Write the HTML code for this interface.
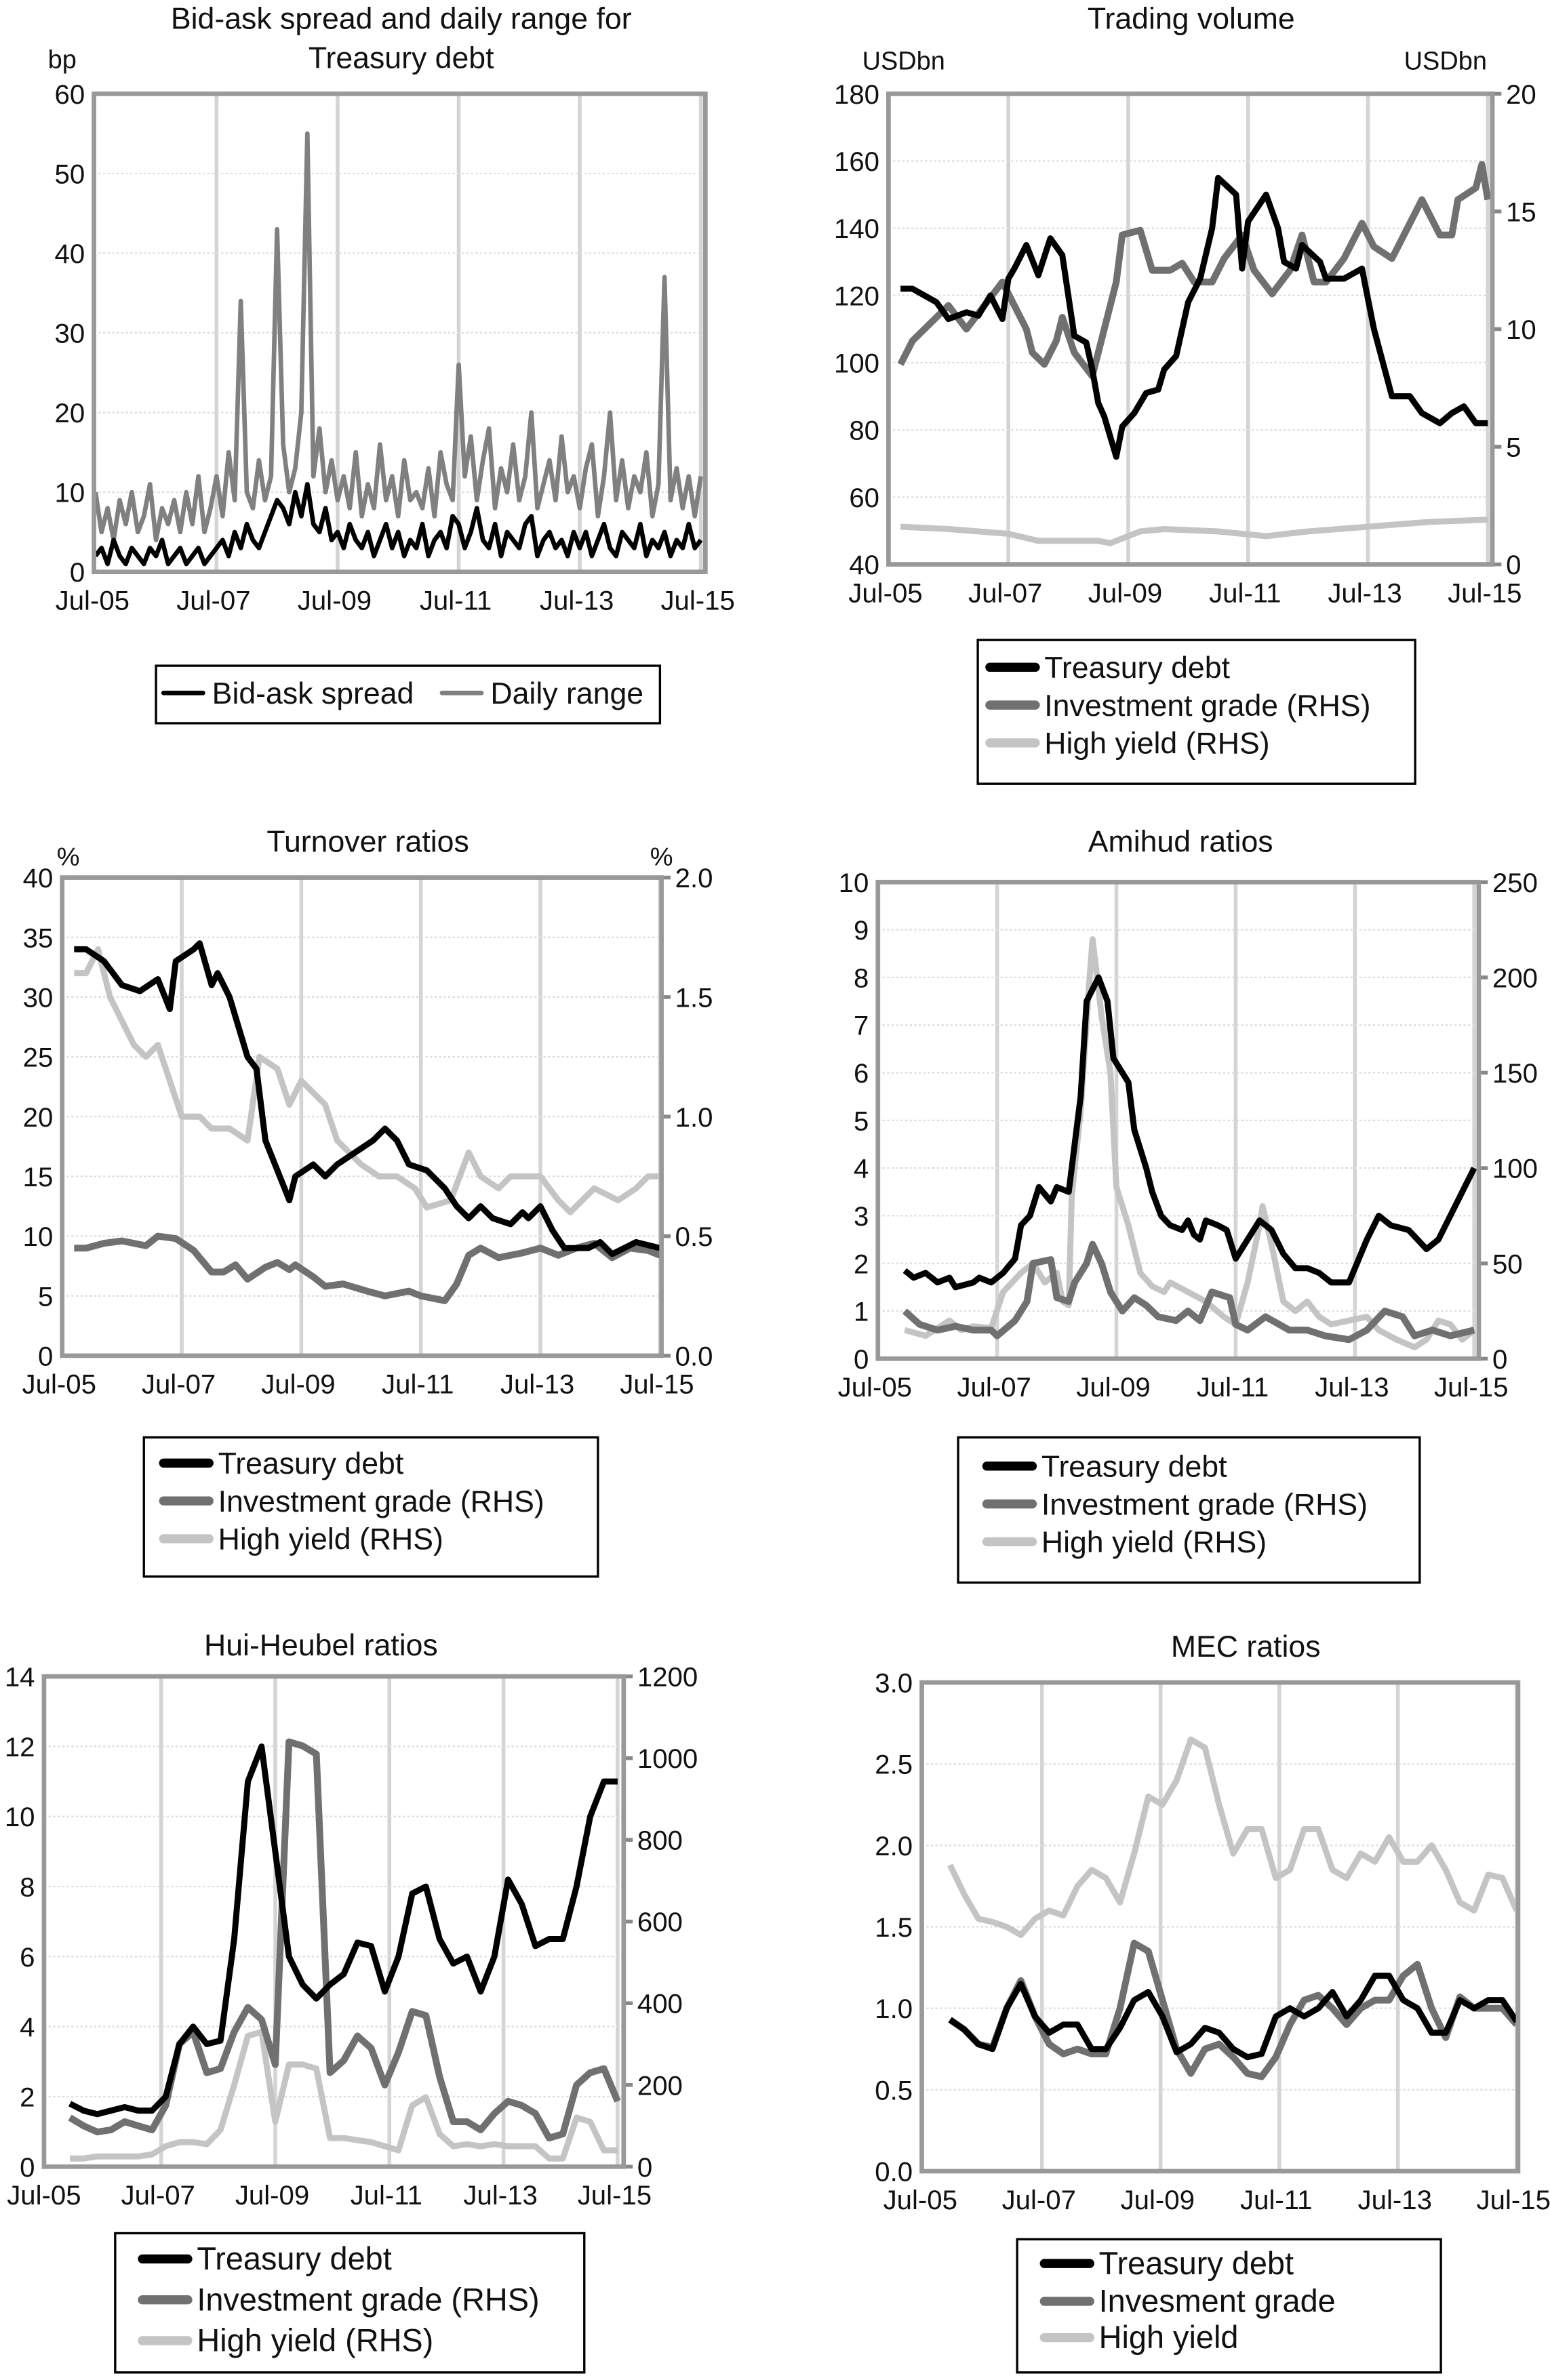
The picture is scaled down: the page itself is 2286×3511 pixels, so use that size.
<!DOCTYPE html>
<html><head><meta charset="utf-8"><style>
html,body{margin:0;padding:0;background:#fff;}
svg{display:block;font-family:"Liberation Sans",Arial,sans-serif;}
</style></head><body>
<svg id="root" width="2286" height="3511" viewBox="0 0 1024 1573" xmlns="http://www.w3.org/2000/svg"></svg>
<script>
// ---------- data (dates in years since Jul-05) ----------
const xTickLabels = ["Jul-05","Jul-07","Jul-09","Jul-11","Jul-13","Jul-15"];
// chart 1 (0.1-year steps from Jul-05)
const c1Range = [10,5,8,4,9,6,10,5,7,11,4,8,6,9,5,10,6,12,5,8,
 12,7,15,9,34,10,8,14,9,12,43,16,10,13,20,55,12,18,10,14,
 9,12,8,15,7,11,8,16,9,12,7,14,9,10,8,13,7,15,11,9,
 26,12,17,9,14,18,8,13,10,16,9,12,20,8,11,14,9,17,10,12,
 8,13,16,7,12,20,9,14,8,12,10,15,7,11,37,9,13,8,12,7,12];
const c1BidAsk = [2,3,1,4,2,1,3,2,1,3,2,4,1,2,3,1,2,3,1,2,
 3,4,2,5,3,6,4,3,5,7,9,8,6,10,7,11,6,5,8,4,
 5,3,6,4,3,5,2,4,6,3,5,2,4,3,6,2,4,5,3,7,
 6,3,5,8,4,3,6,2,5,4,3,6,7,2,4,5,3,4,2,5,
 3,5,2,4,6,3,2,5,4,3,6,2,4,3,5,2,4,3,6,3,4];
const c1Ticks = ["0","10","20","30","40","50","60"];
// chart 2
const c2TreasuryDates = [0.2,0.4,0.8,1.0,1.3,1.5,1.7,1.9,2.0,2.1,2.3,2.5,2.7,2.9,3.0,3.1,3.3,3.4,3.5,3.6,3.8,3.9,4.1,4.3,4.5,4.6,4.8,5.0,5.2,5.4,5.5,5.8,5.9,6.0,6.3,6.5,6.6,6.8,6.9,7.2,7.3,7.6,7.9,8.1,8.4,8.7,8.9,9.2,9.4,9.6,9.8,10];
const c2Treasury = [122,122,118,113,115,114,120,113,125,128,135,126,137,132,120,108,106,98,88,84,72,81,85,91,92,98,102,118,125,140,155,150,128,142,150,140,130,128,135,130,125,125,128,110,90,90,85,82,85,87,82,82];
const c2IGDates = [0.2,0.4,0.6,0.8,1.0,1.3,1.6,1.9,2.3,2.4,2.6,2.8,2.9,3.1,3.4,3.6,3.8,3.9,4.2,4.4,4.7,4.9,5.1,5.4,5.6,5.9,6.1,6.4,6.7,6.9,7.1,7.3,7.6,7.9,8.1,8.4,8.7,8.9,9.2,9.4,9.5,9.8,9.9,10];
const c2IG = [8.5,9.5,10,10.5,11,10,11,12,10,9,8.5,9.5,10.5,9,8,10,12,14,14.2,12.5,12.5,12.8,12,12,13,14,12.5,11.5,12.5,14,12,12,13,14.5,13.5,13,14.5,15.5,14,14,15.5,16,17,15.5];
const c2HYDates = [0.2,1.0,2.0,2.5,3.5,3.7,4.2,4.6,5.5,6.3,7.0,8.0,9.0,10];
const c2HY = [1.6,1.5,1.3,1.0,1.0,0.9,1.4,1.5,1.4,1.2,1.4,1.6,1.8,1.9];
const c2LTicks = ["40","60","80","100","120","140","160","180"];
const c2RTicks = ["0","5","10","15","20"];
// chart 3
const c3TreasuryDates = [0.2,0.4,0.7,1.0,1.3,1.6,1.8,1.9,2.2,2.3,2.5,2.6,2.8,3.1,3.25,3.4,3.8,3.9,4.2,4.4,4.6,4.9,5.2,5.4,5.6,5.8,6.1,6.4,6.6,6.8,7.0,7.2,7.5,7.7,7.8,8.0,8.2,8.4,8.8,9.0,9.2,9.4,9.6,10];
const c3Treasury = [34,34,33,31,30.5,31.5,29,33,34,34.5,31,32,30,25,24,18,13,15,16,15,16,17,18,19,18,16,15.5,14,12.5,11.5,12.5,11.5,11,12,11.5,12.5,10.5,9,9,9.5,8.5,9,9.5,9];
const c3IGDates = [0.2,0.4,0.7,1.0,1.4,1.6,1.9,2.2,2.5,2.7,2.9,3.1,3.4,3.6,3.8,3.9,4.2,4.4,4.7,5.1,5.4,5.8,6.0,6.4,6.6,6.8,7.0,7.3,7.7,8.0,8.3,8.6,8.9,9.2,9.5,9.8,10];
const c3IG = [0.45,0.45,0.47,0.48,0.46,0.5,0.49,0.44,0.35,0.35,0.38,0.32,0.37,0.39,0.36,0.38,0.33,0.29,0.3,0.27,0.25,0.27,0.25,0.23,0.3,0.42,0.45,0.41,0.43,0.45,0.42,0.45,0.47,0.41,0.45,0.44,0.42];
const c3HYDates = [0.2,0.4,0.6,0.8,1.0,1.2,1.4,1.6,1.8,2.0,2.3,2.5,2.8,3.1,3.3,3.6,3.8,4.0,4.4,4.6,5.0,5.3,5.6,5.9,6.1,6.5,6.8,7.0,7.3,7.5,8.0,8.3,8.5,8.9,9.3,9.6,9.8,10];
const c3HY = [1.6,1.6,1.7,1.5,1.4,1.3,1.25,1.3,1.15,1.0,1.0,0.95,0.95,0.9,1.25,1.2,1.05,1.15,1.05,0.9,0.8,0.75,0.75,0.7,0.62,0.65,0.85,0.75,0.7,0.75,0.75,0.65,0.6,0.7,0.65,0.7,0.75,0.75];
const c3LTicks = ["0","5","10","15","20","25","30","35","40"];
const c3RTicks = ["0.0","0.5","1.0","1.5","2.0"];
// chart 4
const c4TreasuryDates = [0.45,0.6,0.8,1.0,1.2,1.3,1.6,1.7,1.9,2.1,2.3,2.4,2.55,2.7,2.9,3.0,3.2,3.3,3.4,3.5,3.7,3.85,3.95,4.2,4.3,4.5,4.6,4.75,4.9,5.1,5.2,5.3,5.4,5.5,5.7,5.85,6.0,6.2,6.4,6.6,6.8,7.0,7.2,7.4,7.6,7.9,8.2,8.4,8.6,8.9,9.2,9.4,9.6,9.8,10];
const c4Treasury = [1.85,1.7,1.8,1.6,1.7,1.5,1.6,1.7,1.6,1.8,2.1,2.8,3.0,3.6,3.3,3.6,3.5,4.5,5.5,7.5,8.0,7.5,6.3,5.8,4.8,4.0,3.5,3.0,2.8,2.7,2.9,2.6,2.5,2.9,2.8,2.7,2.1,2.5,2.9,2.7,2.2,1.9,1.9,1.8,1.6,1.6,2.5,3.0,2.8,2.7,2.3,2.5,3.0,3.5,4.0];
const c4IGDates = [0.45,0.7,1.0,1.3,1.6,1.9,2.0,2.3,2.5,2.6,2.9,3.0,3.2,3.3,3.5,3.6,3.75,3.9,4.1,4.3,4.5,4.7,5.0,5.2,5.4,5.6,5.9,6.0,6.2,6.5,6.9,7.2,7.5,7.9,8.2,8.5,8.8,9.0,9.3,9.6,10];
const c4IG = [25,18,15,17,15,15,12,20,30,50,52,32,30,40,50,60,50,35,25,32,28,22,20,25,20,35,32,18,15,22,15,15,12,10,15,25,22,12,15,12,15];
const c4HYDates = [0.45,0.8,1.1,1.2,1.4,1.6,1.9,2.1,2.4,2.6,2.8,3.0,3.1,3.2,3.25,3.4,3.55,3.6,3.75,3.9,4.0,4.2,4.4,4.6,4.8,4.9,5.2,5.5,5.8,6.0,6.2,6.4,6.45,6.6,6.8,7.0,7.2,7.4,7.6,7.9,8.2,8.4,8.7,9.0,9.2,9.4,9.6,9.8,10];
const c4HY = [15,12,18,20,15,17,16,35,45,50,40,45,30,28,85,130,200,220,180,150,90,70,45,38,35,40,35,30,22,18,40,70,80,60,30,25,30,22,18,20,22,15,10,6,10,20,18,10,15];
const c4LTicks = ["0","1","2","3","4","5","6","7","8","9","10"];
const c4RTicks = ["0","50","100","150","200","250"];
// chart 5 (41 evenly spaced observations, 0.4 to 10 years)
const c5Treasury = [1.8,1.6,1.5,1.6,1.7,1.6,1.6,2.0,3.5,4.0,3.5,3.6,6.5,11,12,9,6,5.2,4.8,5.2,5.5,6.4,6.3,5.0,6.0,7.8,8.0,6.5,5.8,6.0,5.0,6.0,8.2,7.5,6.3,6.5,6.5,8.0,10,11,11];
const c5IG = [120,100,85,90,110,100,90,150,300,330,230,240,330,390,360,250,1040,1030,1010,230,260,320,290,200,280,380,370,220,110,110,90,130,160,150,130,70,80,200,230,240,160];
const c5HY = [20,20,25,25,25,25,30,50,60,60,55,90,200,320,330,110,250,250,240,70,70,65,60,50,40,150,170,80,50,55,50,55,50,50,50,20,20,120,110,40,40];
const c5LTicks = ["0","2","4","6","8","10","12","14"];
const c5RTicks = ["0","200","400","600","800","1000","1200"];
// chart 6 (41 evenly spaced observations, 0.45 to 10 years)
const c6Treasury = [.93,.87,.78,.75,1.0,1.15,.95,.85,.9,.9,.75,.75,.88,1.05,1.1,.95,.73,.78,.88,.85,.75,.7,.72,.95,1.0,.95,1.0,1.1,.95,1.05,1.2,1.2,1.05,1.0,.85,.85,1.05,1.0,1.05,1.05,.92];
const c6IG = [.93,.87,.78,.76,1.0,1.17,.95,.78,.72,.75,.72,.72,1.0,1.4,1.35,1.05,.75,.6,.75,.78,.7,.6,.58,.7,.9,1.05,1.08,1.0,.9,1.0,1.05,1.05,1.2,1.27,1.0,.82,1.07,1.0,1.0,1.0,.9];
const c6HY = [1.88,1.7,1.55,1.53,1.5,1.45,1.55,1.6,1.57,1.75,1.85,1.8,1.65,1.95,2.3,2.25,2.4,2.65,2.6,2.25,1.95,2.1,2.1,1.8,1.85,2.1,2.1,1.85,1.8,1.95,1.9,2.05,1.9,1.9,2.0,1.85,1.65,1.6,1.82,1.8,1.6];
const c6Ticks = ["0.0","0.5","1.0","1.5","2.0","2.5","3.0"];

// ---------- drawing ----------
const NS="http://www.w3.org/2000/svg";
const root=document.getElementById('root');
function mk(tag,attrs,parent){const e=document.createElementNS(NS,tag);for(const k in attrs)e.setAttribute(k,attrs[k]);(parent||root).appendChild(e);return e;}
function txt(s,x,y,anchor,size,parent){const t=mk('text',{x:x,y:y,'text-anchor':anchor,'font-size':size,fill:'#111'},parent);t.textContent=s;return t;}
const BLACK='#000',IG='#707070',HY='#c4c4c4';

function chart(cfg){
  const g=mk('g',{});
  
  
  const L=cfg.box[0],T=cfg.box[1],R=cfg.box[2],B=cfg.box[3];
  const xs=t=>cfg.x0+(cfg.x1-cfg.x0)*t/10;
  const yl=v=>B-(v-cfg.lmin)/(cfg.lmax-cfg.lmin)*(B-T);
  const yr=cfg.rmax!==undefined?(v=>B-(v-cfg.rmin)/(cfg.rmax-cfg.rmin)*(B-T)):yl;
  for(let i=1;i<=5;i++){const l=mk('line',{x1:xs(i*2),x2:xs(i*2),y1:T,y2:B,stroke:'#d4d4d4','stroke-width':2.5},g);}
  cfg.lticks.forEach((s,i)=>{const v=cfg.lmin+(cfg.lmax-cfg.lmin)*i/(cfg.lticks.length-1);
    if(i>0&&i<cfg.lticks.length-1){mk('line',{x1:L,x2:R,y1:yl(v),y2:yl(v),stroke:'#ddd','stroke-width':1,'stroke-dasharray':'1.5 1.5'},g);}
    const t=txt(s,L-6,yl(v)+6.5,'end',18,g);});
  if(cfg.rticks){cfg.rticks.forEach((s,i)=>{const v=cfg.rmin+(cfg.rmax-cfg.rmin)*i/(cfg.rticks.length-1);
    mk('line',{x1:R,x2:R+6,y1:yr(v),y2:yr(v),stroke:'#888','stroke-width':2.5},g);
    const t=txt(s,R+9,yr(v)+6.5,'start',18,g);});}
  xTickLabels.forEach((s,i)=>{const t=txt(s,xs(i*2)-2,B+25,'middle',18,g);});
  cfg.series.forEach(se=>{const n=se.data.length;const f=se.axis==='r'?yr:yl;
    const s0=se.start||0;
    const pts=se.data.map((v,i)=>{const t=se.dates?se.dates[i]:s0+(10-s0)*i/(n-1);return xs(t).toFixed(2)+','+f(v).toFixed(2);}).join(' ');
    const p=mk('polyline',{points:pts,fill:'none',stroke:se.color,'stroke-width':se.w,'stroke-linejoin':'round'},g);
    });
  const fr=mk('rect',{x:L,y:T,width:R-L,height:B-T,fill:'none',stroke:'#999','stroke-width':3},g);
  
  cfg.title.forEach((s,i)=>{const t=txt(s,cfg.tx,cfg.ty+i*26,'middle',20,g);});
  (cfg.units||[]).forEach(u=>{const t=txt(u[0],u[1],u[2],'middle',17,g);});
  const lg=cfg.legend;const lgG=mk('g',{},g);
  
  mk('rect',{x:lg.box[0],y:lg.box[1],width:lg.box[2]-lg.box[0],height:lg.box[3]-lg.box[1],fill:'#fff',stroke:'#000','stroke-width':1.5},lgG);
  lg.items.forEach(it=>{const e=mk('g',{},lgG);
    mk('line',{x1:it[0],x2:it[0]+(lg.sw||30),y1:it[1]-7,y2:it[1]-7,stroke:it[3],'stroke-width':it[4],'stroke-linecap':'round'},e);
    txt(it[2],it[0]+(lg.sw||30)+6,it[1],'start',lg.size,e);});
}

chart({name:'bid-ask-chart',box:[62,62,466,378],x0:63,x1:463,lmin:0,lmax:60,lticks:c1Ticks,
  series:[{id:'daily-range-line',data:c1Range,color:'#808080',w:3},{id:'bid-ask-line',data:c1BidAsk,color:BLACK,w:3}],
  title:['Bid-ask spread and daily range for','Treasury debt'],tx:265,ty:19,units:[['bp',41,45]],
  legend:{box:[103,440,436,478],size:20,sw:26,items:[[108,465,'Bid-ask spread',BLACK,3],[292,465,'Daily range','#808080',3]]}});

chart({name:'trading-volume-chart',box:[587,62,986,373],x0:587,x1:983,lmin:40,lmax:180,lticks:c2LTicks,rmin:0,rmax:20,rticks:c2RTicks,
  series:[{id:'hy-line',data:c2HY,dates:c2HYDates,axis:'r',color:HY,w:4},{id:'ig-line',data:c2IG,dates:c2IGDates,axis:'r',color:IG,w:4.5},{id:'treasury-line',data:c2Treasury,dates:c2TreasuryDates,color:BLACK,w:4}],
  title:['Trading volume'],tx:787,ty:19,units:[['USDbn',597,46],['USDbn',955,46]],
  legend:{box:[646,423,935,518],size:20,items:[[654,448,'Treasury debt',BLACK,6],[654,473,'Investment grade (RHS)',IG,6],[654,498,'High yield (RHS)',HY,6]]}});

chart({name:'turnover-chart',box:[41,580,437,896],x0:41,x1:436,lmin:0,lmax:40,lticks:c3LTicks,rmin:0,rmax:2,rticks:c3RTicks,
  series:[{id:'hy-line',data:c3HY,dates:c3HYDates,axis:'r',color:HY,w:4},{id:'ig-line',data:c3IG,dates:c3IGDates,axis:'r',color:IG,w:4.5},{id:'treasury-line',data:c3Treasury,dates:c3TreasuryDates,color:BLACK,w:4}],
  title:['Turnover ratios'],tx:243,ty:563,units:[['%',45,572],['%',437,572]],
  legend:{box:[95,950,395,1042],size:20,items:[[108,974,'Treasury debt',BLACK,6],[108,999,'Investment grade (RHS)',IG,6],[108,1024,'High yield (RHS)',HY,6]]}});

chart({name:'amihud-chart',box:[580,583,977,898],x0:580,x1:974,lmin:0,lmax:10,lticks:c4LTicks,rmin:0,rmax:250,rticks:c4RTicks,
  series:[{id:'hy-line',data:c4HY,dates:c4HYDates,axis:'r',color:HY,w:4},{id:'ig-line',data:c4IG,dates:c4IGDates,axis:'r',color:IG,w:4.5},{id:'treasury-line',data:c4Treasury,dates:c4TreasuryDates,color:BLACK,w:4}],
  title:['Amihud ratios'],tx:780,ty:563,
  legend:{box:[633,950,938,1046],size:20,items:[[652,976,'Treasury debt',BLACK,6],[652,1001,'Investment grade (RHS)',IG,6],[652,1026,'High yield (RHS)',HY,6]]}});

chart({name:'hui-heubel-chart',box:[29,1108,412,1432],x0:31,x1:408,lmin:0,lmax:14,lticks:c5LTicks,rmin:0,rmax:1200,rticks:c5RTicks,
  series:[{id:'hy-line',data:c5HY,start:0.4,axis:'r',color:HY,w:4},{id:'ig-line',data:c5IG,start:0.4,axis:'r',color:IG,w:4.5},{id:'treasury-line',data:c5Treasury,start:0.4,color:BLACK,w:4}],
  title:['Hui-Heubel ratios'],tx:212,ty:1094,
  legend:{box:[76,1476,386,1568],size:21,items:[[94,1500,'Treasury debt',BLACK,6],[94,1527,'Investment grade (RHS)',IG,6],[94,1554,'High yield (RHS)',HY,6]]}});

chart({name:'mec-chart',box:[609,1112,1003,1435],x0:610,x1:1002,lmin:0,lmax:3,lticks:c6Ticks,
  series:[{id:'hy-line',data:c6HY,start:0.45,color:HY,w:4},{id:'ig-line',data:c6IG,start:0.45,color:IG,w:4.5},{id:'treasury-line',data:c6Treasury,start:0.45,color:BLACK,w:4}],
  title:['MEC ratios'],tx:823,ty:1095,
  legend:{box:[672,1480,952,1568],size:21,items:[[690,1503,'Treasury debt',BLACK,6],[690,1528,'Invesment grade',IG,6],[690,1552,'High yield',HY,6]]}});
</script>
</body></html>
